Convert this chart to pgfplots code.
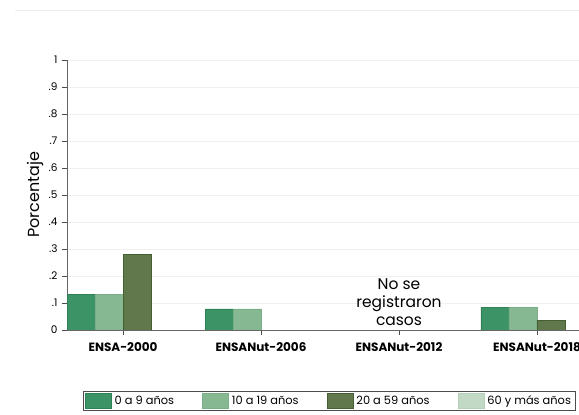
\documentclass[border=0pt]{standalone}
\usepackage{pgfplots}
\pgfplotsset{compat=1.18}
\usepackage{fontspec}
\setmainfont{Poppins}

\definecolor{gA}{HTML}{3C9466}
\definecolor{gAe}{HTML}{2F8055}
\definecolor{gB}{HTML}{86B891}
\definecolor{gBe}{HTML}{7AAE86}
\definecolor{gC}{HTML}{61784C}
\definecolor{gCe}{HTML}{445F33}
\definecolor{gD}{HTML}{C2DAC5}
\definecolor{gDe}{HTML}{B5D0B8}

\begin{document}
\begin{tikzpicture}
\path[use as bounding box] (0,0) rectangle (579pt,415pt);
\draw[color=black!7, line width=0.8pt] (15pt,405pt) -- (579pt,405pt);
\begin{axis}[
    at={(67pt,85pt)}, anchor=south west,
    scale only axis, width=526pt, height=270pt,
    xmin=-0.406, xmax=3.406,
    ymin=0, ymax=1,
    axis x line*=bottom, axis y line*=left,
    axis line style={black!60, line width=0.8pt},
    xtick={0,1,2,3},
    xticklabels={ENSA-2000,ENSANut-2006,ENSANut-2012,ENSANut-2018},
    xticklabel style={font=\bfseries\fontsize{12}{14}\selectfont, yshift=-4pt},
    ytick={0,0.1,0.2,0.3,0.4,0.5,0.6,0.7,0.8,0.9,1},
    yticklabels={0,.1,.2,.3,.4,.5,.6,.7,.8,.9,1},
    yticklabel style={font=\fontsize{10.5}{12}\selectfont, xshift=-1pt},
    tick align=outside, major tick length=5pt,
    tick style={black!70, line width=0.8pt},
    ymajorgrids=true,
    grid style={color=black!6, line width=0.8pt},
    ylabel={Porcentaje},
    ylabel style={font=\fontsize{16}{18}\selectfont, yshift=-2pt},
    ybar, bar width=28pt,
    legend columns=4,
    legend image code/.code={\draw[#1] (0pt,-7.5pt) rectangle (26pt,7.5pt);},
    legend style={at={(0.498,-0.263)}, anchor=center,
        draw=black!70, line width=0.6pt,
        font=\fontsize{11.4}{13}\selectfont,
        inner xsep=2pt, inner ysep=1.5pt,
        /tikz/every odd column/.append style={column sep=1pt},
        /tikz/every even column/.append style={column sep=26pt}},
]

\addplot[fill=gA, draw=gAe, line width=0.8pt, bar shift=-42pt]
    coordinates {(0,0.133) (1,0.078) (3,0.084)};
\addplot[fill=gB, draw=gBe, line width=0.8pt, bar shift=-14pt]
    coordinates {(0,0.133) (1,0.078) (3,0.084)};
\addplot[fill=gC, draw=gCe, line width=0.8pt, bar shift=14pt]
    coordinates {(0,0.281) (3,0.037)};
\addlegendimage{fill=gD, draw=gDe, line width=0.8pt}

\legend{0 a 9 años, 10 a 19 años, 20 a 59 años, 60 y más años}

\node[align=center, font=\fontsize{15.5}{18}\selectfont] at (axis cs:2,0.104)
    {No se\\registraron\\casos};
\end{axis}
\end{tikzpicture}
\end{document}
